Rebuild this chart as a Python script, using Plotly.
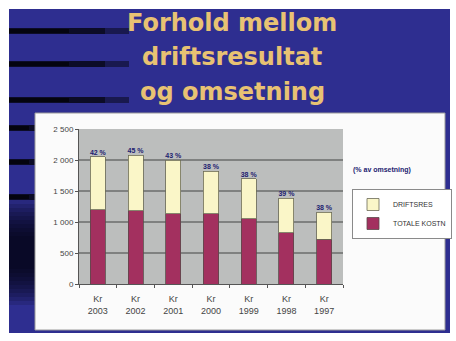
import plotly.graph_objects as go

# ---- data ----
categories = ["Kr<br>2003", "Kr<br>2002", "Kr<br>2001", "Kr<br>2000", "Kr<br>1999", "Kr<br>1998", "Kr<br>1997"]
totale_kostn = [1200, 1180, 1130, 1130, 1050, 825, 725]
driftsres = [850, 900, 870, 690, 645, 560, 435]
pct_labels = ["42 %", "45 %", "43 %", "38 %", "38 %", "39 %", "38 %"]
y_tickvals = [0, 500, 1000, 1500, 2000, 2500]
y_ticktext = ["0", "500", "1 000", "1 500", "2 000", "2 500"]
title_lines = ["Forhold mellom", "driftsresultat", "og omsetning"]

totals = [a + b for a, b in zip(totale_kostn, driftsres)]

W, H = 456, 341
L, R, T, B = 79, 343, 129, 284  # plot area in pixels


def px(x):
    return (x - L) / (R - L)


def py(y):
    return 1 - (y - T) / (B - T)


fig = go.Figure()
fig.add_trace(go.Bar(x=categories, y=totale_kostn, name="TOTALE KOSTN",
                     marker=dict(color="#A3305F", line=dict(color="#5a4a4a", width=0.8))))
fig.add_trace(go.Bar(x=categories, y=driftsres, name="DRIFTSRES",
                     marker=dict(color="#FAF6C8", line=dict(color="#6a6a55", width=0.8))))
fig.add_trace(go.Scatter(x=categories, y=totals, mode="text", text=["<b>%s</b>" % t for t in pct_labels],
                         textposition="top center", showlegend=False, cliponaxis=False,
                         textfont=dict(family="Liberation Sans", size=7, color="#1c1c70")))

shapes = []
# slide background
shapes.append(dict(type="rect", xref="paper", yref="paper", x0=px(9), x1=px(450), y0=py(333), y1=py(9),
                   fillcolor="#2E2E90", line=dict(width=0), layer="below"))
# dark left-side shading (soft vertical gradient built from stacked translucent strips)
for k in range(10):
    y0 = 200 + k * 4
    y1 = 305 - k * 4
    shapes.append(dict(type="rect", xref="paper", yref="paper", x0=px(9), x1=px(40), y0=py(y1), y1=py(y0),
                       fillcolor="#000008", opacity=0.13, line=dict(width=0), layer="below"))
# black streaks (title lines and continuing down the left edge)
for yy, w in [(31, 120), (64, 120), (100, 120), (128, 40), (162, 40), (197, 40)]:
    for frac, op, h in [(1.0, 0.45, 3), (0.8, 0.5, 3), (0.5, 0.6, 2)]:
        shapes.append(dict(type="rect", xref="paper", yref="paper", x0=px(9), x1=px(9 + w * frac),
                           y0=py(yy + h), y1=py(yy - h),
                           fillcolor="#000000", opacity=op, line=dict(width=0), layer="below"))
# white chart box
shapes.append(dict(type="rect", xref="paper", yref="paper", x0=px(35), x1=px(445), y0=py(330), y1=py(113),
                   fillcolor="#FBFBFB", line=dict(color="#9a9a9a", width=1), layer="below"))
# gray plot area
shapes.append(dict(type="rect", xref="x domain", yref="y domain", x0=0, x1=1, y0=0, y1=1,
                   fillcolor="#BCBEBD", line=dict(width=0), layer="below"))

annotations = []
for i, (line, yc) in enumerate(zip(title_lines, [23, 57, 92])):
    annotations.append(dict(text="<b>%s</b>" % line, xref="paper", yref="paper", x=px(232), y=py(yc),
                            showarrow=False, xanchor="center", yanchor="middle",
                            font=dict(family="DejaVu Sans", size=24, color="#E8C273")))
annotations.append(dict(text="<b>(% av omsetning)</b>", xref="paper", yref="paper", x=px(351), y=py(170),
                        showarrow=False, xanchor="left", yanchor="middle",
                        font=dict(family="Liberation Sans", size=7, color="#1c1c70")))

fig.update_layout(
    width=W, height=H,
    margin=dict(l=L, r=W - R, t=T, b=H - B, pad=0, autoexpand=False),
    paper_bgcolor="#FFFFFF",
    plot_bgcolor="rgba(0,0,0,0)",
    barmode="stack",
    bargap=0.6,
    shapes=shapes,
    annotations=annotations,
    legend=dict(x=px(352), y=py(189), xanchor="left", yanchor="top", traceorder="reversed",
                bgcolor="#FFFFFF", bordercolor="#8a8a8a", borderwidth=1,
                font=dict(family="Liberation Sans", size=7, color="#333333"),
                itemwidth=30, tracegroupgap=0),
    xaxis=dict(showline=True, linecolor="#555555", linewidth=1, ticks="outside", ticklen=3,
               tickson="boundaries", tickcolor="#555555", ticklabelstandoff=6,
               tickfont=dict(family="Liberation Sans", size=9, color="#444444"), showgrid=False),
    yaxis=dict(range=[0, 2500], tickvals=y_tickvals, ticktext=y_ticktext, showline=True,
               linecolor="#555555", linewidth=1, ticks="outside", ticklen=3, tickcolor="#555555",
               gridcolor="#7f8180", gridwidth=1.5, zeroline=False,
               tickfont=dict(family="Liberation Sans", size=8, color="#444444")),
)

fig.write_html("out.html")
